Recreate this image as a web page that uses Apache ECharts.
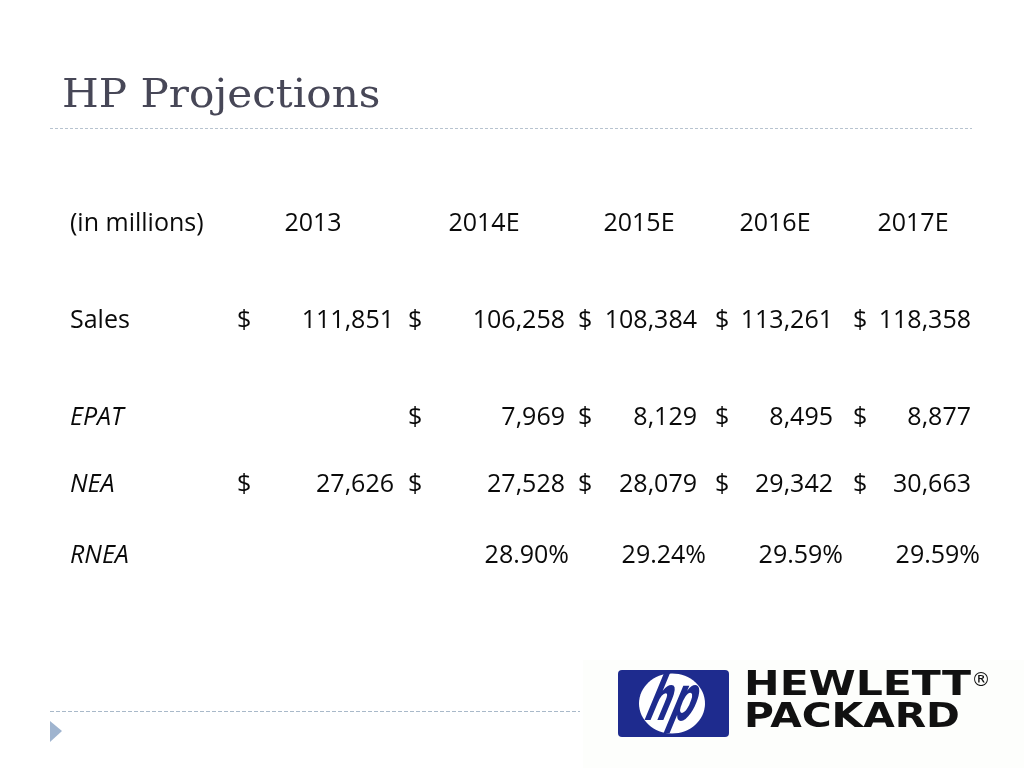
<!DOCTYPE html>
<html>
<head>
<meta charset="utf-8">
<script src="https://cdn.jsdelivr.net/npm/echarts@6/dist/echarts.min.js"></script>
<style>
html,body{margin:0;padding:0;background:#fff;}
#chart{width:1024px;height:768px;}
</style>
</head>
<body>
<div id="chart"></div>
<script>
// ---- data ----
const titleText = 'HP Projections';
const headerLabel = '(in millions)';
const categories = ['2013', '2014E', '2015E', '2016E', '2017E'];
const rowLabels = ['Sales', 'EPAT', 'NEA', 'RNEA'];
const salesValues = [111851, 106258, 108384, 113261, 118358];
const epatValues = [null, 7969, 8129, 8495, 8877];
const neaValues = [27626, 27528, 28079, 29342, 30663];
const rneaValues = [null, 28.90, 29.24, 29.59, 29.59];

// ---- layout (pixel positions on the slide scale) ----
const layout = {
  labelX: 70,
  headerCenter: [313, 484, 639, 775, 913],
  dollarLeft: [237, 408, 578, 715, 853],
  numRight: [394, 565, 697, 833, 971],
  pctRight: [569, 569, 706, 843, 980],
  rowY: { header: 224, Sales: 321, EPAT: 418, NEA: 485, RNEA: 556 },
  italicRows: { Sales: false, EPAT: true, NEA: true, RNEA: true }
};

const fmtNum = v => v.toLocaleString('en-US');
const fmtPct = v => v.toFixed(2) + '%';

// build cells
const cells = [];
cells.push({ x: layout.labelX, y: layout.rowY.header, text: headerLabel, align: 'left', italic: false });
categories.forEach((c, i) => {
  cells.push({ x: layout.headerCenter[i], y: layout.rowY.header, text: c, align: 'center', italic: false });
});
const rowData = { Sales: salesValues, EPAT: epatValues, NEA: neaValues, RNEA: rneaValues };
rowLabels.forEach(r => {
  const y = layout.rowY[r];
  cells.push({ x: layout.labelX, y: y, text: r, align: 'left', italic: layout.italicRows[r] });
  rowData[r].forEach((v, i) => {
    if (v == null) return;
    if (r === 'RNEA') {
      cells.push({ x: layout.pctRight[i], y: y, text: fmtPct(v), align: 'right', italic: false });
    } else {
      cells.push({ x: layout.dollarLeft[i], y: y, text: '$', align: 'left', italic: false });
      cells.push({ x: layout.numRight[i], y: y, text: fmtNum(v), align: 'right', italic: false });
    }
  });
});

const chart = echarts.init(document.getElementById('chart'), null, { renderer: 'canvas' });

const blue = '#1e2b8e';
const option = {
  backgroundColor: '#ffffff',
  animation: false,
  grid: { left: 0, right: 0, top: 0, bottom: 0 },
  xAxis: { type: 'value', min: 0, max: 1024, show: false },
  yAxis: { type: 'value', min: 0, max: 768, inverse: true, show: false },
  series: [{
    type: 'custom',
    silent: true,
    clip: false,
    data: cells.map(c => [c.x, c.y]),
    renderItem: function (params, api) {
      const c = cells[params.dataIndex];
      const p = api.coord([api.value(0), api.value(1)]);
      return {
        type: 'text',
        x: p[0],
        y: p[1],
        style: {
          text: c.text,
          align: c.align,
          verticalAlign: 'middle',
          fontFamily: '"Open Sans", sans-serif',
          fontSize: 25,
          fontStyle: c.italic ? 'italic' : 'normal',
          fill: '#0a0a0a'
        }
      };
    }
  }],
  graphic: [
    // title
    { type: 'text', x: 62, y: 97, scaleX: 1.08, style: { text: titleText, fontFamily: '"DejaVu Serif", serif', fontSize: 39, fill: '#474757', verticalAlign: 'middle', align: 'left' } },
    // top dotted rule
    { type: 'line', shape: { x1: 50, y1: 128.5, x2: 972, y2: 128.5 }, style: { stroke: '#b7c3cf', lineWidth: 1, lineDash: [3, 2] } },
    // logo background
    { type: 'rect', shape: { x: 583, y: 660, width: 441, height: 108 }, style: { fill: '#fdfefc' } },
    // bottom dashed rule
    { type: 'line', shape: { x1: 50, y1: 711.5, x2: 580, y2: 711.5 }, style: { stroke: '#a9b9c9', lineWidth: 1, lineDash: [4, 2] } },
    // bullet triangle
    { type: 'polygon', shape: { points: [[50, 721], [62, 731], [50, 742]] }, style: { fill: '#9fb4cf' } },
    // HP logo block
    { type: 'rect', shape: { x: 618, y: 670, width: 111, height: 67, r: 4 }, style: { fill: blue } },
    { type: 'ellipse', shape: { cx: 672, cy: 703.5, rx: 33, ry: 30 }, style: { fill: '#ffffff' } },
    { type: 'text', x: 673, y: 704, scaleX: 0.9, scaleY: 1.65, skewX: -0.3, style: { text: 'hp', fontFamily: '"DejaVu Sans", sans-serif', fontWeight: 'bold', fontStyle: 'italic', fontSize: 38, fill: blue, align: 'center', verticalAlign: 'middle' } },
    { type: 'text', x: 744, y: 686, scaleX: 1.29, style: { text: 'HEWLETT', fontFamily: '"DejaVu Sans", sans-serif', fontWeight: 'bold', fontSize: 33, fill: '#111111', align: 'left', verticalAlign: 'middle' } },
    { type: 'text', x: 744, y: 718, scaleX: 1.235, style: { text: 'PACKARD', fontFamily: '"DejaVu Sans", sans-serif', fontWeight: 'bold', fontSize: 33, fill: '#111111', align: 'left', verticalAlign: 'middle' } },
    { type: 'text', x: 981, y: 681, style: { text: '®', fontFamily: '"DejaVu Sans", sans-serif', fontSize: 19, fill: '#111111', align: 'center', verticalAlign: 'middle' } }
  ]
};
chart.setOption(option);
</script>
</body>
</html>
